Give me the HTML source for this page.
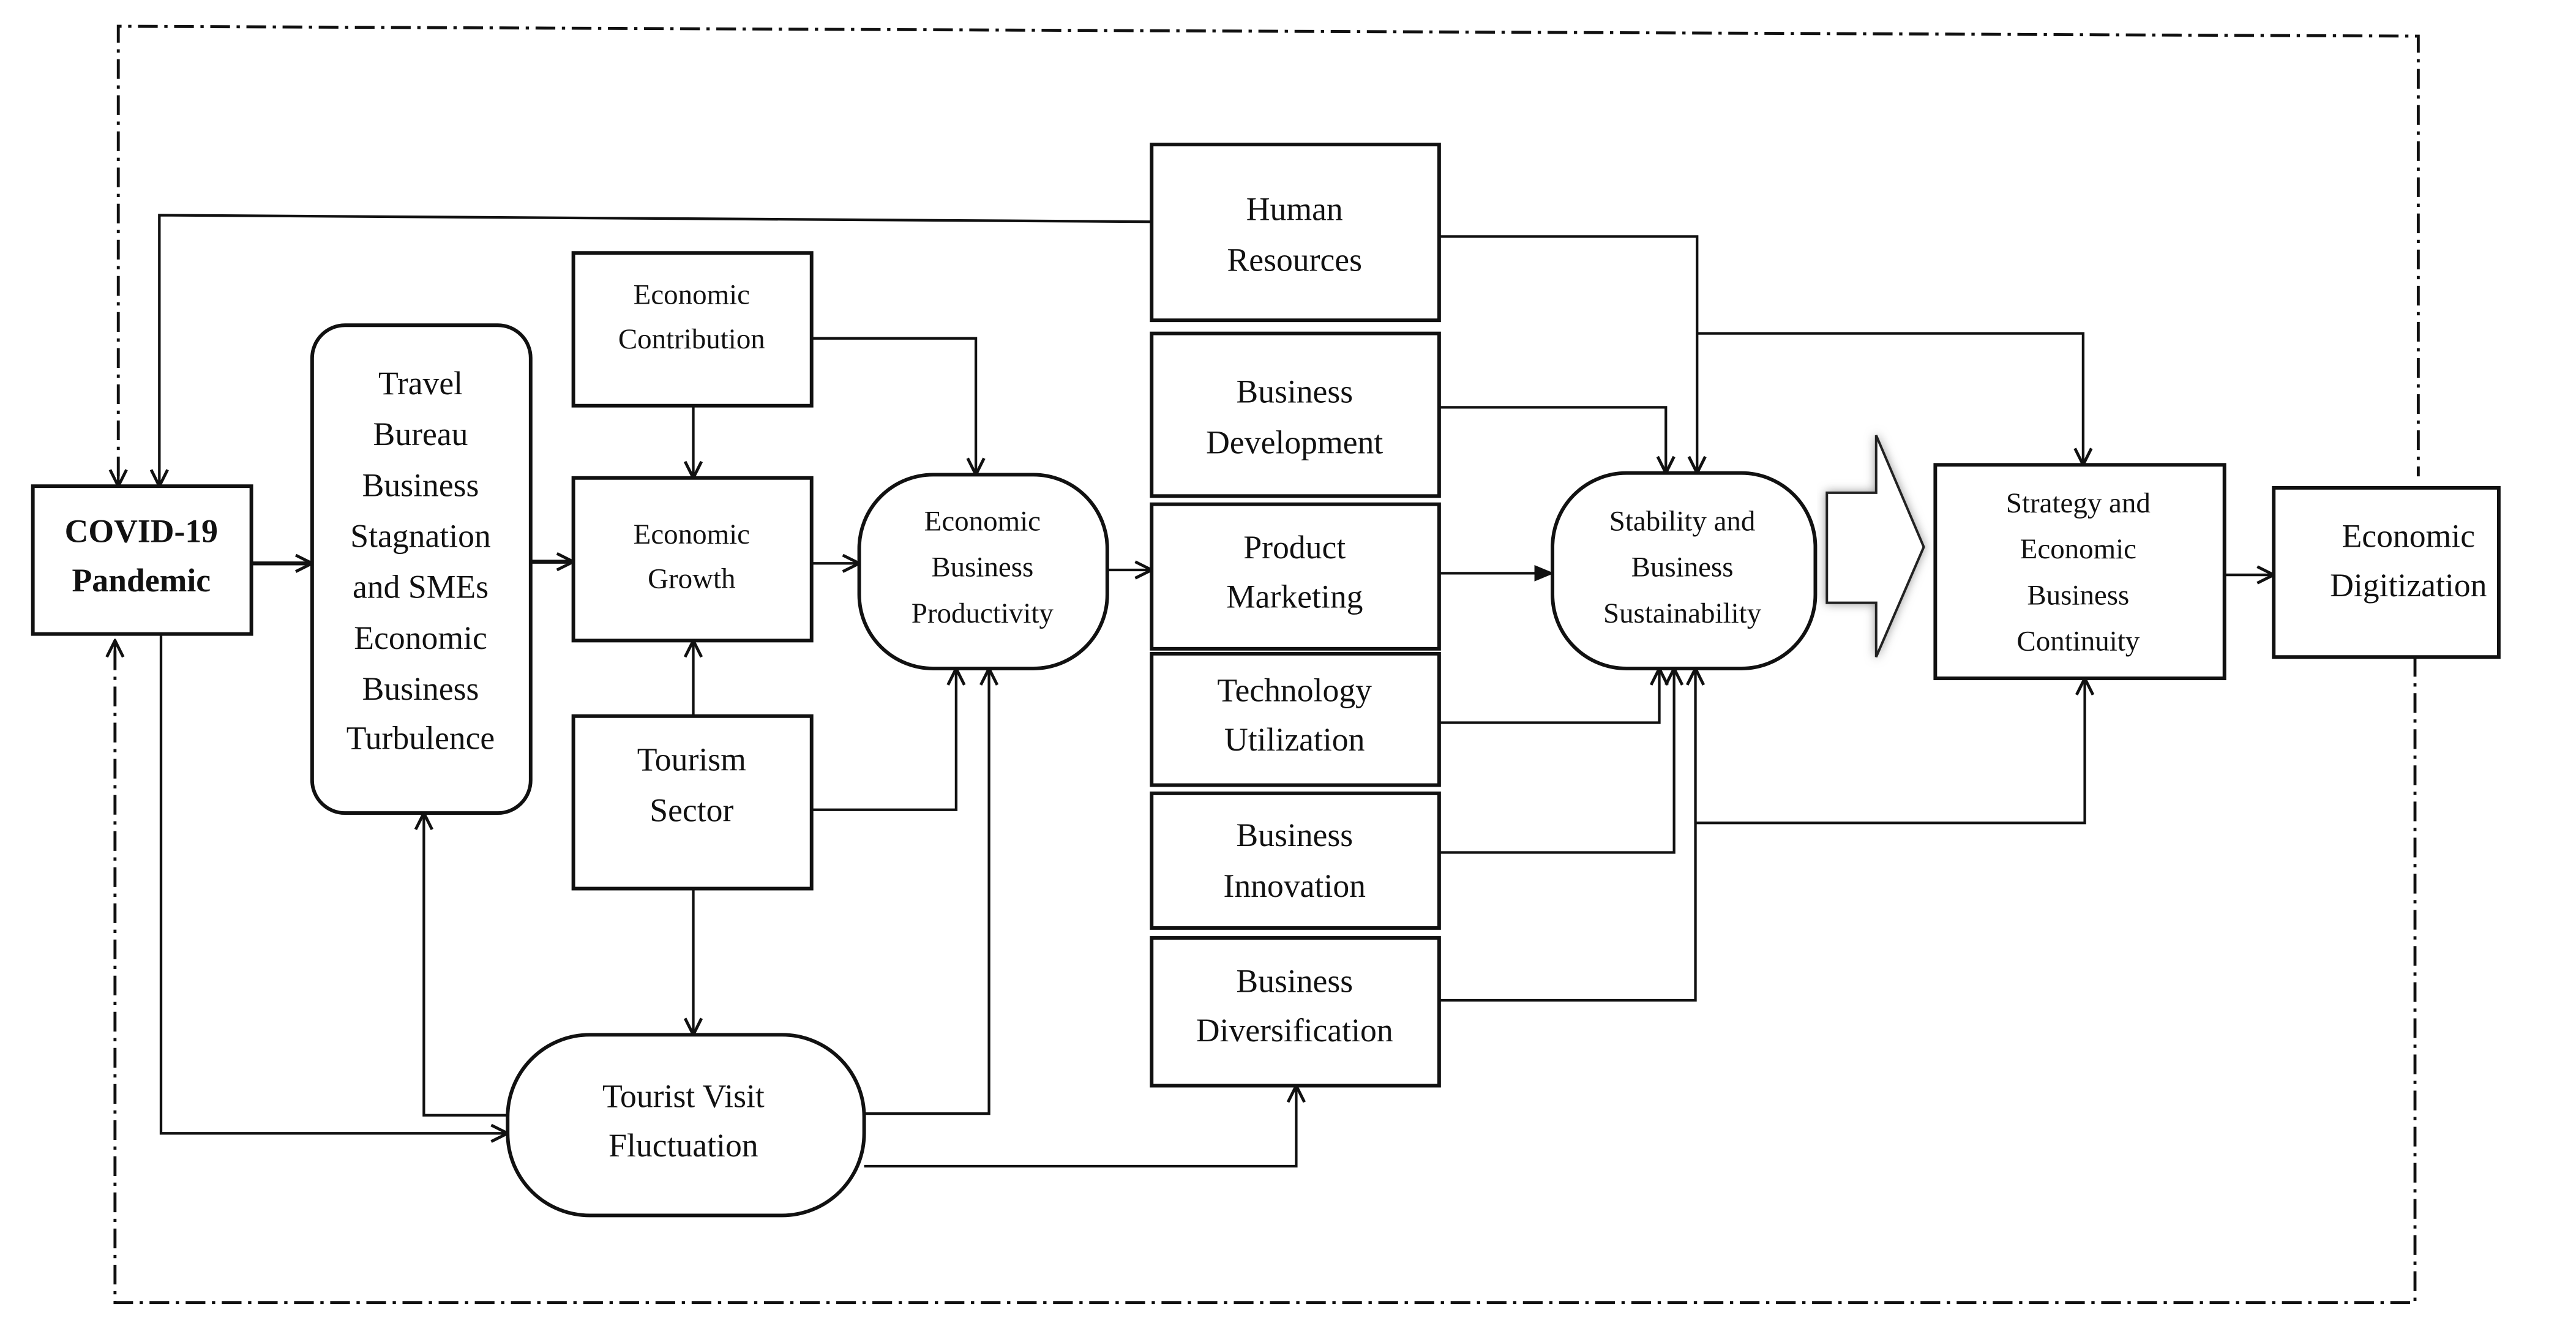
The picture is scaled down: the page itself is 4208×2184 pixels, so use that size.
<!DOCTYPE html>
<html><head><meta charset="utf-8"><style>
html,body{margin:0;padding:0;background:#fff;}
svg{display:block;}
text{font-family:"Liberation Serif",serif;fill:#111;text-anchor:middle;}
</style></head><body>
<svg width="4208" height="2184" viewBox="0 0 1568 814" preserveAspectRatio="none" xmlns="http://www.w3.org/2000/svg">
<defs>
<marker id="a" viewBox="0 0 12 12" refX="11" refY="6" markerWidth="12" markerHeight="12" markerUnits="userSpaceOnUse" orient="auto">
<path d="M1,1 L11,6 L1,11" fill="none" stroke="#111" stroke-width="1.8"/>
</marker>
<marker id="f" viewBox="0 0 12 12" refX="11" refY="6" markerWidth="12" markerHeight="12" markerUnits="userSpaceOnUse" orient="auto">
<path d="M0,1 L12,6 L0,11 Z" fill="#111"/>
</marker>
<filter id="sh"><feDropShadow dx="0" dy="0" stdDeviation="3" flood-color="#999"/></filter>
</defs>
<g fill="none" stroke="#111" stroke-width="1.8" stroke-dasharray="12,4,2,4">
<polyline points="72,290 72,16 1472,22 1472,290"/>
<polyline points="1470,400 1470,793 70,793 70,392"/>
</g>
<g fill="none" stroke="#111" stroke-width="1.6">
<line x1="72" y1="280" x2="72" y2="296" marker-end="url(#a)"/>
<line x1="70" y1="400" x2="70" y2="390" marker-end="url(#a)"/>
</g>
<g fill="#fff" stroke="#111" stroke-width="2.2">
<rect x="20" y="296" width="133" height="90"/>
<rect x="190" y="198" width="133" height="297" rx="20"/>
<rect x="349" y="154" width="145" height="93"/>
<rect x="349" y="291" width="145" height="99"/>
<rect x="349" y="436" width="145" height="105"/>
<rect x="523" y="289" width="151" height="118" rx="45"/>
<rect x="309" y="630" width="217" height="110" rx="50"/>
<rect x="701" y="88" width="175" height="107"/>
<rect x="701" y="203" width="175" height="99"/>
<rect x="701" y="307" width="175" height="88"/>
<rect x="701" y="398" width="175" height="80"/>
<rect x="701" y="483" width="175" height="82"/>
<rect x="701" y="571" width="175" height="90"/>
<rect x="945" y="288" width="160" height="119" rx="45"/>
<rect x="1178" y="283" width="176" height="130"/>
<rect x="1384" y="297" width="137" height="103"/>
</g>
<path d="M1112,300 L1142,300 L1142,265 L1171,333 L1142,400 L1142,367 L1112,367 Z" fill="#fff" stroke="#222" stroke-width="1.5" filter="url(#sh)"/>
<g fill="none" stroke="#111" stroke-width="1.6">
<polyline points="701,135 97,131 97,296" marker-end="url(#a)"/>
<line x1="153" y1="343" x2="190" y2="343" stroke-width="2.4" marker-end="url(#a)"/>
<line x1="323" y1="342" x2="349" y2="342" stroke-width="2.4" marker-end="url(#a)"/>
<line x1="422" y1="247" x2="422" y2="291" marker-end="url(#a)"/>
<polyline points="494,206 594,206 594,289" marker-end="url(#a)"/>
<line x1="494" y1="343" x2="523" y2="343" marker-end="url(#a)"/>
<line x1="422" y1="436" x2="422" y2="390" marker-end="url(#a)"/>
<polyline points="494,493 582,493 582,407" marker-end="url(#a)"/>
<line x1="422" y1="541" x2="422" y2="630" marker-end="url(#a)"/>
<polyline points="309,679 258,679 258,495" marker-end="url(#a)"/>
<polyline points="98,386 98,690 309,690" marker-end="url(#a)"/>
<polyline points="526,678 602,678 602,407" marker-end="url(#a)"/>
<polyline points="526,710 789,710 789,661" marker-end="url(#a)"/>
<line x1="674" y1="347" x2="701" y2="347" marker-end="url(#a)"/>
<polyline points="876,144 1033,144 1033,288" marker-end="url(#a)"/>
<polyline points="1033,203 1268,203 1268,283" marker-end="url(#a)"/>
<polyline points="876,248 1014,248 1014,288" marker-end="url(#a)"/>
<line x1="876" y1="349" x2="945" y2="349" marker-end="url(#f)"/>
<polyline points="876,440 1010,440 1010,407" marker-end="url(#a)"/>
<polyline points="876,519 1019,519 1019,407" marker-end="url(#a)"/>
<polyline points="876,609 1032,609 1032,407" marker-end="url(#a)"/>
<polyline points="1032,501 1269,501 1269,413" marker-end="url(#a)"/>
<line x1="1354" y1="350" x2="1384" y2="350" marker-end="url(#a)"/>
</g>
<g font-size="20" font-weight="bold">
<text x="86" y="330">COVID-19</text><text x="86" y="360">Pandemic</text>
</g>
<g font-size="20">
<text x="256" y="240">Travel</text><text x="256" y="271">Bureau</text><text x="256" y="302">Business</text>
<text x="256" y="333">Stagnation</text><text x="256" y="364">and SMEs</text><text x="256" y="395">Economic</text>
<text x="256" y="426">Business</text><text x="256" y="456">Turbulence</text>
<text x="421" y="469">Tourism</text><text x="421" y="500">Sector</text>
<text x="416" y="674">Tourist Visit</text><text x="416" y="704">Fluctuation</text>
<text x="788" y="134">Human</text><text x="788" y="165">Resources</text>
<text x="788" y="245">Business</text><text x="788" y="276">Development</text>
<text x="788" y="340">Product</text><text x="788" y="370">Marketing</text>
<text x="788" y="427">Technology</text><text x="788" y="457">Utilization</text>
<text x="788" y="515">Business</text><text x="788" y="546">Innovation</text>
<text x="788" y="604">Business</text><text x="788" y="634">Diversification</text>
<text x="1466" y="333">Economic</text><text x="1466" y="363">Digitization</text>
</g>
<g font-size="17.5">
<text x="421" y="185">Economic</text><text x="421" y="212">Contribution</text>
<text x="421" y="331">Economic</text><text x="421" y="358">Growth</text>
<text x="598" y="323">Economic</text><text x="598" y="351">Business</text><text x="598" y="379">Productivity</text>
<text x="1024" y="323">Stability and</text><text x="1024" y="351">Business</text><text x="1024" y="379">Sustainability</text>
<text x="1265" y="312">Strategy and</text><text x="1265" y="340">Economic</text><text x="1265" y="368">Business</text><text x="1265" y="396">Continuity</text>
</g>
</svg>
</body></html>
